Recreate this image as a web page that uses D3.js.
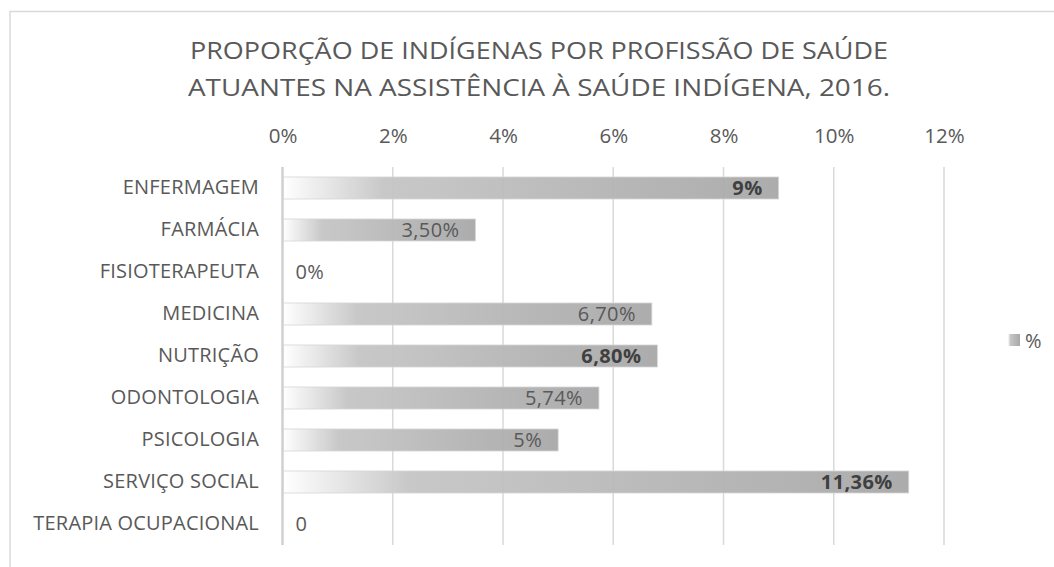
<!DOCTYPE html>
<html><head><meta charset="utf-8">
<script src="https://cdn.jsdelivr.net/npm/d3@7"></script>
<style>body{margin:0;background:#fff}svg{display:block}text{font-family:"Open Sans",sans-serif}</style>
</head><body>
<svg id="c" width="1054" height="567"></svg>
<script>
const categories = ["ENFERMAGEM","FARMÁCIA","FISIOTERAPEUTA","MEDICINA","NUTRIÇÃO","ODONTOLOGIA","PSICOLOGIA","SERVIÇO SOCIAL","TERAPIA OCUPACIONAL"];
const values = [0.09, 0.035, 0, 0.067, 0.068, 0.0574, 0.05, 0.1136, 0];
const valueLabels = ["9%","3,50%","0%","6,70%","6,80%","5,74%","5%","11,36%","0"];
const boldLabels = [true,false,false,false,true,false,false,true,false];
const tickValues = [0,0.02,0.04,0.06,0.08,0.10,0.12];
const tickLabels = ["0%","2%","4%","6%","8%","10%","12%"];
const titleLines = ["PROPORÇÃO DE INDÍGENAS POR PROFISSÃO DE SAÚDE","ATUANTES NA ASSISTÊNCIA À SAÚDE INDÍGENA, 2016."];
const seriesName = "%";

const FONT = "'Open Sans',sans-serif";
const svg = d3.select("#c");
const defs = svg.append("defs");
const g1 = defs.append("linearGradient").attr("id","bg").attr("x1","0").attr("x2","1").attr("y1","0").attr("y2","0");
g1.append("stop").attr("offset","0").attr("stop-color","#ffffff");
g1.append("stop").attr("offset","0.2").attr("stop-color","#c6c6c6");
g1.append("stop").attr("offset","1").attr("stop-color","#a8a8a8");

// frame
svg.append("rect").attr("x",10).attr("y",11.5).attr("width",1100).attr("height",600)
  .attr("fill","none").attr("stroke","#d9d9d9").attr("stroke-width",1.5);

// title
svg.selectAll("text.title").data(titleLines).join("text").attr("class","title")
  .attr("x",539).attr("y",(d,i)=>59+i*37).attr("text-anchor","middle")
  .attr("font-size",23).attr("fill","#595959")
  .attr("textLength",(d,i)=>i===0?698:702).attr("lengthAdjust","spacingAndGlyphs")
  .text(d=>d);

const x = d3.scaleLinear().domain([0,0.12]).range([282.5,944]);
const y = d3.scaleBand().domain(categories).range([167,545]).paddingInner(0.476).paddingOuter(0.238);

// gridlines
svg.append("g").selectAll("line").data(tickValues).join("line")
  .attr("x1",d=>x(d)).attr("x2",d=>x(d)).attr("y1",167).attr("y2",545)
  .attr("stroke",d=>d===0?"#d0d0d0":"#d9d9d9").attr("stroke-width",d=>d===0?2.5:1.5);

// top axis
const ax = svg.append("g").attr("transform","translate(0,143)")
  .call(d3.axisTop(x).tickValues(tickValues).tickFormat((d,i)=>tickLabels[i]).tickSize(0).tickPadding(0));
ax.select(".domain").remove();
ax.selectAll("text").attr("font-size",20.5).attr("fill","#595959").attr("font-family",FONT).attr("dy","0");

// category axis
const ay = svg.append("g").attr("transform","translate(259,0)")
  .call(d3.axisLeft(y).tickSize(0).tickPadding(0));
ay.select(".domain").remove();
ay.selectAll("text").attr("font-size",20).attr("fill","#595959").attr("font-family",FONT).attr("letter-spacing","0.2px");

// bars
svg.append("g").selectAll("rect").data(values).join("rect")
  .attr("x",x(0)+1).attr("y",(d,i)=>y(categories[i]))
  .attr("width",d=>Math.max(0,x(d)-x(0)-1)).attr("height",y.bandwidth())
  .attr("fill","url(#bg)").attr("stroke",d=>d>0?"#d4d4d4":"none").attr("stroke-width",0.8)
  .attr("opacity",0.95);

// value labels
svg.append("g").selectAll("text").data(values).join("text")
  .attr("x",(d,i)=>d>0?x(d)-16:x(0)+13)
  .attr("y",(d,i)=>y(categories[i])+y.bandwidth()/2)
  .attr("dy","0.36em")
  .attr("text-anchor",d=>d>0?"end":"start")
  .attr("font-size",20).attr("letter-spacing","0.4px").attr("font-weight",(d,i)=>boldLabels[i]?"bold":"normal")
  .attr("fill",(d,i)=>boldLabels[i]?"#404040":"#595959")
  .text((d,i)=>valueLabels[i]);

// legend
const lg = svg.append("g");
lg.append("rect").attr("x",1008).attr("y",334).attr("width",12).attr("height",12).attr("fill","url(#bg)");
lg.append("text").attr("x",1025).attr("y",348).attr("font-size",20).attr("fill","#595959").text(seriesName);
</script>
</body></html>
